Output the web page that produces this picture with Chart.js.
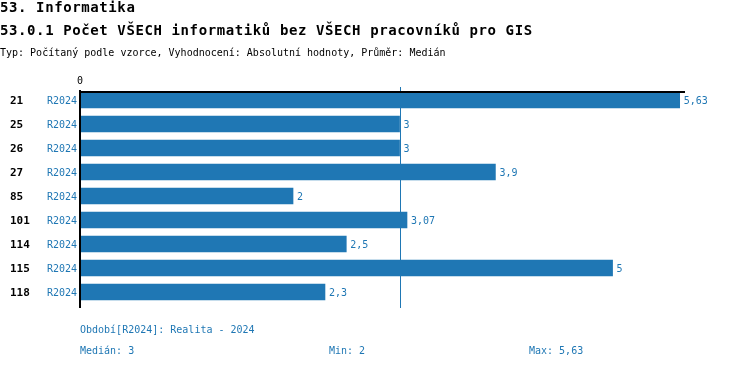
<!DOCTYPE html>
<html>
<head>
<meta charset="utf-8">
<script src="https://cdn.jsdelivr.net/npm/chart.js@4/dist/chart.umd.min.js"></script>
<style>
  html, body { margin: 0; padding: 0; background: #fff; }
  #wrap { width: 750px; height: 368px; position: relative; }
</style>
</head>
<body>
<div id="wrap"><canvas id="myChart" width="750" height="368"></canvas></div>
<script>
// data
const codes = ['21', '25', '26', '27', '85', '101', '114', '115', '118'];
const periods = ['R2024', 'R2024', 'R2024', 'R2024', 'R2024', 'R2024', 'R2024', 'R2024', 'R2024'];
const values = [5.63, 3, 3, 3.9, 2, 3.07, 2.5, 5, 2.3];
const xTicks = [0];
const axisMax = 5.68;

const title = '53. Informatika';
const subtitle = '53.0.1 Počet VŠECH informatiků bez VŠECH pracovníků pro GIS';
const typLine = 'Typ: Počítaný podle vzorce, Vyhodnocení: Absolutní hodnoty, Průměr: Medián';
const periodNote = 'Období[R2024]: Realita - 2024';

const blue = '#1f77b4';
const mono = '"DejaVu Sans Mono", "Liberation Mono", monospace';

function fmt(v) {
  return String(v).replace('.', ',');
}

function median(arr) {
  const s = arr.slice().sort((a, b) => a - b);
  const m = Math.floor(s.length / 2);
  return s.length % 2 ? s[m] : (s[m - 1] + s[m]) / 2;
}

const med = median(values);
const minV = Math.min(...values);
const maxV = Math.max(...values);

const decor = {
  id: 'decor',
  afterDraw(chart) {
    const ctx = chart.ctx;
    const x = chart.scales.x;
    const y = chart.scales.y;
    const area = chart.chartArea;
    ctx.save();

    // headings
    ctx.fillStyle = '#000';
    ctx.textAlign = 'left';
    ctx.textBaseline = 'alphabetic';
    ctx.font = 'bold 14px ' + mono;
    ctx.letterSpacing = '0.6px';
    ctx.fillText(title, 0, 12);
    ctx.fillText(subtitle, 0, 35);
    ctx.letterSpacing = '0px';
    ctx.font = '10px ' + mono;
    ctx.fillText(typLine, 0, 56);

    // median line
    const mx = Math.round(x.getPixelForValue(med)) + 0.5;
    ctx.strokeStyle = blue;
    ctx.lineWidth = 1;
    ctx.beginPath();
    ctx.moveTo(mx, 87);
    ctx.lineTo(mx, area.bottom + 4);
    ctx.stroke();

    // axes
    ctx.strokeStyle = '#000';
    ctx.lineWidth = 2;
    ctx.beginPath();
    ctx.moveTo(area.left, area.top + 4);
    ctx.lineTo(area.right, area.top + 4);
    ctx.moveTo(area.left, area.top + 2);
    ctx.lineTo(area.left, area.bottom + 4);
    ctx.stroke();

    // x tick labels
    ctx.fillStyle = '#000';
    ctx.font = '10px ' + mono;
    ctx.textAlign = 'center';
    xTicks.forEach(t => ctx.fillText(String(t), x.getPixelForValue(t), 84));

    // row labels and value labels
    ctx.textBaseline = 'middle';
    codes.forEach((c, i) => {
      const py = y.getPixelForValue(i);
      ctx.textAlign = 'left';
      ctx.fillStyle = '#000';
      ctx.font = 'bold 11px ' + mono;
      ctx.fillText(c, 10, py + 1);
      ctx.textAlign = 'right';
      ctx.fillStyle = blue;
      ctx.font = '10px ' + mono;
      ctx.fillText(periods[i], 77, py + 1);
      ctx.textAlign = 'left';
      ctx.fillText(fmt(values[i]), x.getPixelForValue(values[i]) + 4, py + 1);
    });

    // footer
    ctx.textBaseline = 'alphabetic';
    ctx.textAlign = 'left';
    ctx.fillStyle = blue;
    ctx.font = '10px ' + mono;
    ctx.fillText(periodNote, 80, 333);
    ctx.fillText('Medián: ' + fmt(med), 80, 354);
    ctx.fillText('Min: ' + fmt(minV), 329, 354);
    ctx.fillText('Max: ' + fmt(maxV), 529, 354);

    ctx.restore();
  }
};

function initChart(chart) {
  const data = {
    labels: codes,
    datasets: [{
      data: values,
      backgroundColor: blue,
      borderWidth: 0,
      barThickness: 16
    }]
  };

  const config = {
    type: 'bar',
    data: data,
    options: {
      indexAxis: 'y',
      responsive: false,
      animation: false,
      layout: { padding: { left: 80, top: 88, right: 65, bottom: 64 } },
      plugins: { legend: { display: false }, tooltip: { enabled: false } },
      scales: {
        x: { display: false, min: 0, max: axisMax },
        y: { display: false }
      }
    },
    plugins: [decor]
  };

  return new Chart(chart, config);
}

initChart(document.querySelector('#myChart'));
</script>
</body>
</html>
